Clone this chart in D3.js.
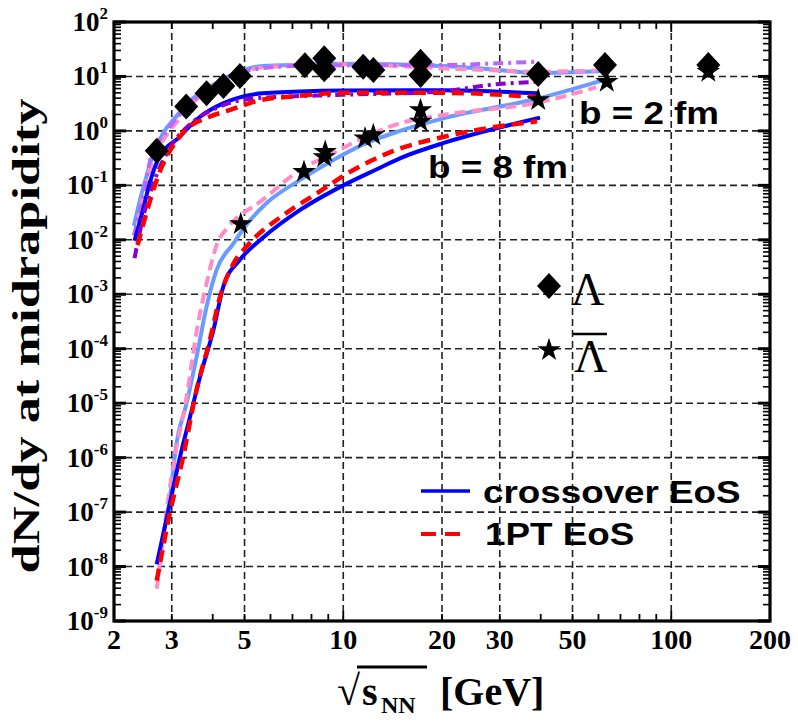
<!DOCTYPE html>
<html>
<head>
<meta charset="utf-8">
<script src="https://cdn.jsdelivr.net/npm/d3@7/dist/d3.min.js"></script>
<style>
  body { margin: 0; background: #fff; }
  svg { display: block; }
  .serif { font-family: "Liberation Serif", "DejaVu Serif", serif; font-weight: bold; }
  .sans { font-family: "Liberation Sans", Arial, sans-serif; font-weight: bold; }
</style>
</head>
<body>
<div id="chart"></div>
<script>
// measured points (sqrt(s_NN) in GeV, dN/dy)
var lambda_E = [2.70, 3.32, 3.83, 4.31, 4.84, 7.64, 8.75, 8.75, 11.5, 12.35, 17.2, 17.2, 39.3, 62.8, 129.7];
var lambda_Y = [0.43, 2.8, 4.9, 6.7, 10.2, 16.0, 21.5, 13.5, 15.1, 13.1, 18.7, 10.6, 11.1, 16.2, 16.2];
var antilambda_E = [4.87, 7.59, 8.81, 8.75, 11.65, 12.35, 17.2, 17.2, 39.3, 63.6, 129.7];
var antilambda_Y = [0.0195, 0.178, 0.415, 0.33, 0.73, 0.84, 2.42, 1.48, 3.7, 8.0, 12.2];

// model curves, [sqrt(s_NN), dN/dy]
var lam_b2_cross = [[2.30,0.018],[2.40,0.054],[2.51,0.144],[2.60,0.29],[2.82,0.90],[3.06,1.7],[3.49,4.0],[4.01,7.0],[4.94,13.1],[5.68,15.6],[7.5,16.5],[10,17.2],[20,15.6],[28,13.5],[38.7,11.6],[62,12.6]];
var lam_b2_1pt = [[2.36,0.02],[2.42,0.045],[2.63,0.3],[2.9,0.85],[3.2,1.8],[3.6,4.0],[4.1,7.0],[5.0,12.5],[6.0,15.0],[10,16.8],[20.6,14.0],[30,12.8],[38.7,12.2],[59,12.8]];
var lam_b2_other = [[2.30,0.012],[2.45,0.06],[2.6,0.35],[2.9,1.0],[3.3,2.6],[3.8,5.5],[4.4,9.0],[5.2,13.0],[7,15.5],[10,16.0],[20,16.2],[30,17.5],[39,18.7]];
var lam_b8_cross = [[2.31,0.0096],[2.45,0.035],[2.57,0.11],[2.72,0.29],[3.17,0.78],[3.66,1.82],[4.30,3.2],[5.68,4.9],[10,5.5],[20,5.6],[39,4.9]];
var lam_b8_1pt = [[2.36,0.008],[2.42,0.014],[2.75,0.17],[3.24,0.91],[3.91,1.82],[4.5,2.4],[5.5,3.6],[7,4.3],[10,5.0],[20,5.0],[39,4.2]];
var lam_b8_other = [[2.31,0.0046],[2.45,0.025],[2.69,0.15],[3.0,0.55],[3.5,1.5],[4.2,2.8],[5.5,4.0],[10,4.6],[20,5.3],[28,7.0],[39,8.0]];
var alam_b2_cross = [[2.70,1.1e-8],[2.96,1.8e-7],[3.10,1.8e-6],[3.33,1e-5],[3.57,7e-5],[3.83,5.9e-4],[4.11,2.8e-3],[4.63,8.6e-3],[5.0,0.017],[5.83,0.047],[7.37,0.125],[9.3,0.29],[11.7,0.59],[14.9,1.0],[20.6,1.75],[39,3.9],[61,8.3]];
var alam_b2_1pt = [[2.70,3.9e-9],[3.04,7.9e-7],[3.33,1.3e-5],[3.57,2.0e-4],[3.85,1.8e-3],[4.11,8e-3],[4.45,0.017],[4.9,0.03],[5.3,0.04],[7.37,0.19],[9.3,0.39],[12.3,0.9],[14.9,1.38],[20.6,2.0],[39,3.3],[59,6.3]];
var alam_b8_cross = [[2.70,1.1e-8],[2.96,1.45e-7],[3.18,1.04e-6],[3.41,5.6e-6],[3.66,3.1e-5],[4.02,2.2e-4],[4.31,1.4e-3],[4.84,4.3e-3],[5.7,0.011],[7.37,0.035],[10,0.1],[12.7,0.2],[15,0.32],[20.6,0.62],[39.8,1.75]];
var alam_b8_1pt = [[2.70,5.5e-9],[2.96,9.5e-8],[3.25,1.04e-6],[3.57,1.75e-5],[3.92,1.45e-4],[4.21,9e-4],[4.63,3.7e-3],[5.07,7.5e-3],[6.7,0.031],[8.3,0.071],[10.7,0.19],[14.1,0.42],[20.6,0.8],[39,1.5]];

var x_ticks = [2, 3, 5, 10, 20, 30, 50, 100, 200];
var x_grid = [3, 5, 10, 20, 30, 50, 100];
var y_exponents = [-9, -8, -7, -6, -5, -4, -3, -2, -1, 0, 1, 2];

var margin = {top: 22, right: 28, bottom: 102, left: 114},
    width = 798 - margin.left - margin.right,
    height = 723 - margin.top - margin.bottom;

var svg = d3.select("#chart").append("svg")
    .attr("width", 798)
    .attr("height", 723);

var g = svg.append("g")
    .attr("transform", "translate(" + margin.left + "," + margin.top + ")");

var x = d3.scaleLog().domain([2, 200]).range([0, width]);
var y = d3.scaleLog().domain([1e-9, 1e2]).range([height, 0]);

g.append("clipPath").attr("id", "plotClip")
    .append("rect").attr("width", width).attr("height", height);

// dashed grid
g.selectAll(".vgrid").data(x_grid).enter().append("line")
    .attr("x1", d => x(d)).attr("x2", d => x(d))
    .attr("y1", 0).attr("y2", height)
    .attr("stroke", "#222").attr("stroke-width", 1.6)
    .attr("stroke-dasharray", "7,4");
g.selectAll(".hgrid").data(y_exponents.slice(1, -1)).enter().append("line")
    .attr("x1", 0).attr("x2", width)
    .attr("y1", d => y(Math.pow(10, d))).attr("y2", d => y(Math.pow(10, d)))
    .attr("stroke", "#222").attr("stroke-width", 1.6)
    .attr("stroke-dasharray", "7,4");

// minor / major ticks, inward on all four sides
var y_minor = [];
y_exponents.slice(0, -1).forEach(function(e) {
    for (var m = 1; m < 10; m++) y_minor.push(m * Math.pow(10, e));
});
y_minor.push(100);
var ticks = g.append("g").attr("stroke", "#000");
y_minor.forEach(function(v) {
    var major = Math.abs(Math.log10(v) - Math.round(Math.log10(v))) < 1e-9;
    var len = major ? 12 : 7;
    var sw = major ? 3 : 1.6;
    ticks.append("line").attr("x1", 0).attr("x2", len).attr("y1", y(v)).attr("y2", y(v)).attr("stroke-width", sw);
    ticks.append("line").attr("x1", width).attr("x2", width - len).attr("y1", y(v)).attr("y2", y(v)).attr("stroke-width", sw);
});
var x_minor = [3, 4, 5, 6, 7, 8, 9, 10, 20, 30, 40, 50, 60, 70, 80, 90, 100];
x_minor.forEach(function(v) {
    var len = (v === 10 || v === 100) ? 10 : 7;
    ticks.append("line").attr("x1", x(v)).attr("x2", x(v)).attr("y1", height).attr("y2", height - len).attr("stroke-width", 1.8);
    ticks.append("line").attr("x1", x(v)).attr("x2", x(v)).attr("y1", 0).attr("y2", len).attr("stroke-width", 1.8);
});

// curves
var line = d3.line()
    .x(d => x(d[0]))
    .y(d => y(d[1]))
    .curve(d3.curveMonotoneX);

var curves = [
    {data: lam_b2_cross, color: "#6a9cff", dash: null, w: 4},
    {data: lam_b2_1pt, color: "#ff8cc6", dash: "11,6", w: 4},
    {data: lam_b2_other, color: "#b866ff", dash: "10,5,3,5", w: 4},
    {data: alam_b2_cross, color: "#6a9cff", dash: null, w: 4},
    {data: alam_b2_1pt, color: "#ff8cc6", dash: "11,6", w: 4},
    {data: lam_b8_cross, color: "#0000ff", dash: null, w: 4},
    {data: lam_b8_other, color: "#8a00cc", dash: "10,5,3,5", w: 4},
    {data: lam_b8_1pt, color: "#ff0000", dash: "12,7", w: 4.5},
    {data: alam_b8_cross, color: "#0000ff", dash: null, w: 4},
    {data: alam_b8_1pt, color: "#ff0000", dash: "12,7", w: 4.5}
];

g.append("g").attr("clip-path", "url(#plotClip)")
    .selectAll("path")
    .data(curves)
    .enter().append("path")
    .attr("d", c => line(c.data))
    .attr("fill", "none")
    .attr("stroke", c => c.color)
    .attr("stroke-width", c => c.w)
    .attr("stroke-dasharray", c => c.dash);

// markers
function diamond(hw, hh) {
    return "M0," + (-hh) + "L" + hw + ",0L0," + hh + "L" + (-hw) + ",0Z";
}
var star = d3.symbol().type(d3.symbolStar).size(170);

g.selectAll(".lam").data(lambda_E).enter().append("path")
    .attr("d", diamond(12, 13))
    .attr("transform", (d, i) => "translate(" + x(d) + "," + y(lambda_Y[i]) + ")")
    .attr("fill", "#000");
g.selectAll(".alam").data(antilambda_E).enter().append("path")
    .attr("d", star)
    .attr("transform", (d, i) => "translate(" + x(d) + "," + y(antilambda_Y[i]) + ")")
    .attr("fill", "#000");

// frame
g.append("rect").attr("width", width).attr("height", height)
    .attr("fill", "none").attr("stroke", "#000").attr("stroke-width", 3.2);

// tick labels
var ylab = g.selectAll(".ylab").data(y_exponents).enter().append("text")
    .attr("class", "serif")
    .attr("text-anchor", "end")
    .attr("x", -6)
    .attr("y", d => y(Math.pow(10, d)) + 9)
    .attr("font-size", 27);
ylab.append("tspan").text("10");
ylab.append("tspan").attr("font-size", 17).attr("dy", -12).text(d => d);

g.selectAll(".xlab").data(x_ticks).enter().append("text")
    .attr("class", "serif")
    .attr("text-anchor", "middle")
    .attr("x", d => x(d))
    .attr("y", height + 28)
    .attr("font-size", 28)
    .text(d => d);

// axis titles
svg.append("text").attr("class", "serif")
    .attr("transform", "translate(39,336) rotate(-90) scale(1.38,1)")
    .attr("text-anchor", "middle")
    .attr("font-size", 38)
    .text("dN/dy at midrapidity");

var xt = svg.append("g").attr("class", "serif");
xt.append("text").attr("x", 337).attr("y", 705).attr("font-size", 42).attr("font-weight", "normal").text("\u221A");
xt.append("text").attr("x", 362).attr("y", 705).attr("font-size", 40).text("s");
xt.append("text").attr("x", 381).attr("y", 713).attr("font-size", 24).text("NN");
xt.append("line").attr("x1", 357).attr("x2", 427).attr("y1", 667).attr("y2", 667)
    .attr("stroke", "#000").attr("stroke-width", 3);
xt.append("text").attr("x", 440).attr("y", 705).attr("font-size", 40).text("[GeV]");

// annotations
function stretched(txt, x0, y0, size) {
    g.append("text").attr("class", "sans")
        .attr("transform", "translate(" + (x0 - margin.left) + "," + (y0 - margin.top) + ") scale(1.15,1)")
        .attr("font-size", size)
        .text(txt);
}
stretched("b = 2 fm", 579, 124, 32);
stretched("b = 8 fm", 428, 178, 32);
stretched("crossover EoS", 483, 503, 32);
stretched("1PT EoS", 485, 545, 32);

// legend
var leg = svg.append("g");
leg.append("path").attr("d", diamond(12, 13)).attr("transform", "translate(549,286)").attr("fill", "#000");
leg.append("text").attr("x", 571).attr("y", 305).attr("font-family", "Liberation Serif, serif").attr("font-size", 46).text("\u039B");
leg.append("path").attr("d", star).attr("transform", "translate(549,350)").attr("fill", "#000");
leg.append("text").attr("x", 574).attr("y", 372).attr("font-family", "Liberation Serif, serif").attr("font-size", 46).text("\u039B");
leg.append("line").attr("x1", 573).attr("x2", 607).attr("y1", 334).attr("y2", 334).attr("stroke", "#000").attr("stroke-width", 2.5);
leg.append("line").attr("x1", 421).attr("x2", 470).attr("y1", 491).attr("y2", 491).attr("stroke", "#0000ff").attr("stroke-width", 3.5);
leg.append("line").attr("x1", 421).attr("x2", 460).attr("y1", 534).attr("y2", 534).attr("stroke", "#ff0000").attr("stroke-width", 4).attr("stroke-dasharray", "15,9");
</script>
</body>
</html>
